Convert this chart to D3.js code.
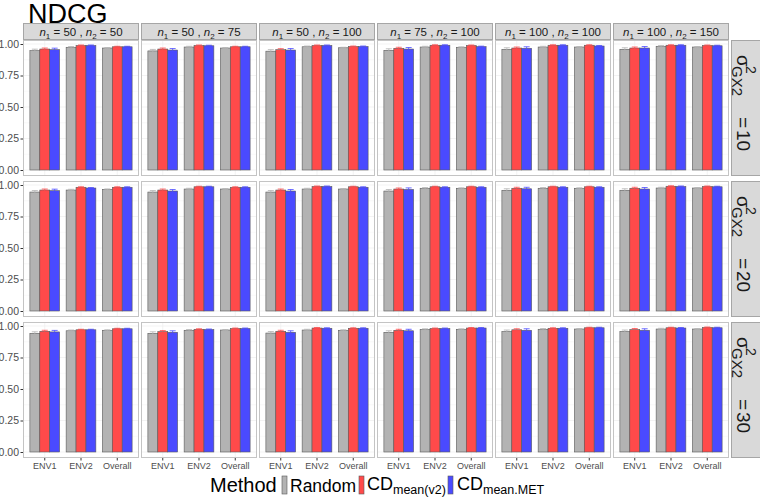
<!DOCTYPE html>
<html>
<head>
<meta charset="utf-8">
<script src="https://cdnjs.cloudflare.com/ajax/libs/d3/7.8.5/d3.min.js"></script>
<style>
  body { margin: 0; background: #fff; }
  text { font-family: "Liberation Sans", Arial, sans-serif; }
</style>
</head>
<body>
<div id="graphics"></div>
<script>
var width = 760, height = 497;

// facets
var n1Vals = [50, 50, 50, 75, 100, 100];
var n2Vals = [50, 75, 100, 100, 100, 150];
var sigmaVals = [10, 20, 30];
var envs = ["ENV1", "ENV2", "Overall"];
var methods = ["Random", "CDv2", "CDMET"];
var methodColors = ["#b3b3b3", "#ff4a4a", "#4a4aff"];
var yTicks = [0, 0.25, 0.5, 0.75, 1];

// mean NDCG: [row][col] = [ENV1, ENV2, Overall]
var randomMean = [
  [[.947,.974,.968],[.945,.976,.968],[.943,.978,.970],[.950,.976,.974],[.958,.976,.976],[.958,.982,.976]],
  [[.944,.960,.965],[.944,.968,.968],[.944,.968,.968],[.952,.974,.974],[.958,.974,.974],[.958,.976,.976]],
  [[.942,.962,.966],[.942,.966,.968],[.944,.968,.966],[.950,.972,.974],[.956,.974,.976],[.956,.976,.976]]
];
var cdV2Mean = [
  [[.960,.988,.978],[.960,.988,.978],[.955,.988,.980],[.966,.990,.988],[.968,.990,.990],[.968,.990,.988]],
  [[.960,.982,.982],[.960,.986,.982],[.960,.988,.986],[.968,.986,.986],[.974,.986,.986],[.974,.990,.988]],
  [[.958,.970,.978],[.956,.974,.980],[.958,.984,.982],[.966,.980,.984],[.970,.982,.986],[.972,.986,.988]]
];
var cdMetMean = [
  [[.955,.988,.978],[.952,.986,.978],[.952,.988,.980],[.960,.990,.979],[.966,.990,.984],[.968,.990,.986]],
  [[.955,.976,.982],[.952,.986,.982],[.952,.988,.982],[.965,.982,.982],[.970,.982,.982],[.968,.988,.986]],
  [[.953,.970,.978],[.950,.972,.980],[.950,.982,.982],[.962,.980,.984],[.966,.982,.986],[.966,.984,.986]]
];
// error bar half-widths per env
var randomErr = [0.012, 0.006, 0.004];
var cdV2Err = [0.008, 0.004, 0.004];
var cdMetErr = [0.012, 0.004, 0.004];

var means = [randomMean, cdV2Mean, cdMetMean];
var errs = [randomErr, cdV2Err, cdMetErr];

var pw = 116, ph = 136;
var colLeft = function(c) { return 23 + c * 118; };
var rowTop = [40, 181, 322];

var svg = d3.select('#graphics')
  .append('svg')
  .attr('width', width)
  .attr('height', height);

svg.append('text')
  .attr('x', 28).attr('y', 23)
  .style('font-size', '27px')
  .text('NDCG');

var x = d3.scaleBand().domain(envs).range([0, pw]).paddingInner(0.18).paddingOuter(0.19);
var xm = d3.scaleBand().domain(methods).range([0, x.bandwidth()]);
var y = d3.scaleLinear().domain([0, 1]).range([ph - 6, 4]);

// column strips
var strips = svg.selectAll('g.strip')
  .data(n1Vals).enter().append('g')
  .attr('class', 'strip')
  .attr('transform', function(d, i) { return 'translate(' + [colLeft(i), 23] + ')'; });
strips.append('rect')
  .attr('x', 0.5).attr('y', 0.5)
  .attr('width', pw - 1).attr('height', 16)
  .attr('fill', '#d9d9d9').attr('stroke', '#a6a6a6').attr('stroke-width', 1);
var st = strips.append('text')
  .attr('x', pw / 2).attr('y', 12.5)
  .attr('text-anchor', 'middle')
  .style('font-size', '11.5px').attr('fill', '#1a1a1a');
st.append('tspan').style('font-style', 'italic').text('n');
st.append('tspan').attr('dy', 3).style('font-size', '8px').text('1');
st.append('tspan').attr('dy', -3).text(function(d) { return ' = ' + d + ' , '; });
st.append('tspan').style('font-style', 'italic').text('n');
st.append('tspan').attr('dy', 3).style('font-size', '8px').text('2');
st.append('tspan').attr('dy', -3).text(function(d, i) { return ' = ' + n2Vals[i]; });

// row strips
var rstrips = svg.selectAll('g.rstrip')
  .data(sigmaVals).enter().append('g')
  .attr('class', 'rstrip')
  .attr('transform', function(d, i) { return 'translate(' + [731, rowTop[i]] + ')'; });
rstrips.append('rect')
  .attr('x', 0.5).attr('y', 0.5)
  .attr('width', 32).attr('height', ph - 1)
  .attr('fill', '#d9d9d9').attr('stroke', '#a6a6a6').attr('stroke-width', 1);
var rl = rstrips.append('g')
  .attr('transform', 'translate(' + [6, ph / 2] + ') rotate(90)')
  .attr('fill', '#1a1a1a');
rl.append('text').attr('x', -53).attr('y', 0).style('font-size', '19px').text('σ');
rl.append('text').attr('x', -42).attr('y', -9).style('font-size', '14px').text('2');
rl.append('text').attr('x', -42).attr('y', 5).style('font-size', '15px').text('GX2');
rl.append('text').attr('x', 9).attr('y', 0).style('font-size', '19px').text('=');
rl.append('text').attr('x', 22).attr('y', 0).style('font-size', '19px')
  .text(function(d) { return d; });

// panels
var panels = [];
sigmaVals.forEach(function(s, r) {
  n1Vals.forEach(function(n, c) { panels.push({row: r, col: c}); });
});

var panel = svg.selectAll('g.panel')
  .data(panels).enter().append('g')
  .attr('class', 'panel')
  .attr('transform', function(d) { return 'translate(' + [colLeft(d.col), rowTop[d.row]] + ')'; });

// minor + major grid
var minorTicks = [0.125, 0.375, 0.625, 0.875];
panel.selectAll('line.minor')
  .data(minorTicks).enter().append('line')
  .attr('x1', 0).attr('x2', pw)
  .attr('y1', function(d) { return y(d); }).attr('y2', function(d) { return y(d); })
  .attr('stroke', '#f3f3f3').attr('stroke-width', 0.5);
panel.selectAll('line.major')
  .data(yTicks).enter().append('line')
  .attr('x1', 0).attr('x2', pw)
  .attr('y1', function(d) { return y(d); }).attr('y2', function(d) { return y(d); })
  .attr('stroke', '#ebebeb').attr('stroke-width', 0.6);
panel.selectAll('line.vmajor')
  .data(envs).enter().append('line')
  .attr('x1', function(d) { return x(d) + x.bandwidth() / 2; })
  .attr('x2', function(d) { return x(d) + x.bandwidth() / 2; })
  .attr('y1', 0).attr('y2', ph)
  .attr('stroke', '#ebebeb').attr('stroke-width', 0.6);

// bars
panel.each(function(p) {
  var g = d3.select(this);
  var rows = [];
  envs.forEach(function(e, ei) {
    methods.forEach(function(m, mi) {
      rows.push({env: e, method: m, mi: mi,
        value: means[mi][p.row][p.col][ei], err: errs[mi][ei]});
    });
  });
  g.selectAll('rect.bar')
    .data(rows).enter().append('rect')
    .attr('class', 'bar')
    .attr('x', function(d) { return x(d.env) + xm(d.method); })
    .attr('width', xm.bandwidth())
    .attr('y', function(d) { return y(d.value); })
    .attr('height', function(d) { return y(0) - y(d.value); })
    .attr('fill', function(d) { return methodColors[d.mi]; })
    .attr('stroke', '#5a5a5a').attr('stroke-width', 0.6);
  var eb = g.selectAll('g.err')
    .data(rows).enter().append('g')
    .attr('stroke', function(d) { return methodColors[d.mi]; })
    .attr('stroke-width', 0.8);
  var cx = function(d) { return x(d.env) + xm(d.method) + xm.bandwidth() / 2; };
  eb.append('line')
    .attr('x1', cx).attr('x2', cx)
    .attr('y1', function(d) { return y(d.value + d.err); })
    .attr('y2', function(d) { return y(d.value - d.err); });
  eb.append('line')
    .attr('x1', function(d) { return cx(d) - 3; }).attr('x2', function(d) { return cx(d) + 3; })
    .attr('y1', function(d) { return y(d.value + d.err); })
    .attr('y2', function(d) { return y(d.value + d.err); });
  eb.append('line')
    .attr('x1', function(d) { return cx(d) - 3; }).attr('x2', function(d) { return cx(d) + 3; })
    .attr('y1', function(d) { return y(d.value - d.err); })
    .attr('y2', function(d) { return y(d.value - d.err); });

  if (p.col == 0) {
    var ya = g.append('g').call(d3.axisLeft(y).tickValues(yTicks).tickFormat(d3.format('.2f')).tickSize(2.5).tickPadding(1.5));
    ya.select('.domain').remove();
    ya.selectAll('line').attr('stroke', '#333');
    ya.selectAll('text').attr('fill', '#4d4d4d').style('font-size', '10.5px').style('font-family', '"Liberation Sans", Arial, sans-serif');
  }
  if (p.row == 2) {
    var xa = g.append('g').attr('transform', 'translate(0,' + ph + ')')
      .call(d3.axisBottom(x).tickSize(2.5).tickPadding(2));
    xa.select('.domain').remove();
    xa.selectAll('line').attr('stroke', '#333');
    xa.selectAll('text').attr('fill', '#4d4d4d').style('font-size', '9px').style('font-family', '"Liberation Sans", Arial, sans-serif');
  }
});

panel.append('rect')
  .attr('x', 0.5).attr('y', 0.5)
  .attr('width', pw - 1).attr('height', ph - 1)
  .attr('fill', 'none').attr('stroke', '#c4c4c4').attr('stroke-width', 1);

// legend
var legend = svg.append('g');
legend.append('text').attr('x', 210).attr('y', 492).style('font-size', '20px').text('Method');
var keyX = [282, 359, 448];
legend.selectAll('rect.key')
  .data(methods).enter().append('rect')
  .attr('x', function(d, i) { return keyX[i]; })
  .attr('y', 476).attr('width', 5).attr('height', 18)
  .attr('fill', function(d, i) { return methodColors[i]; })
  .attr('stroke', '#5a5a5a').attr('stroke-width', 0.6);
legend.append('text').attr('x', 290).attr('y', 492).style('font-size', '17.5px').text('Random');
var l2 = legend.append('text').attr('x', 367).attr('y', 490).style('font-size', '18px');
l2.append('tspan').text('CD');
l2.append('tspan').attr('dy', 4).style('font-size', '12.5px').text('mean(v2)');
var l3 = legend.append('text').attr('x', 457).attr('y', 490).style('font-size', '18px');
l3.append('tspan').text('CD');
l3.append('tspan').attr('dy', 4).style('font-size', '12.5px').text('mean.MET');
</script>
</body>
</html>
